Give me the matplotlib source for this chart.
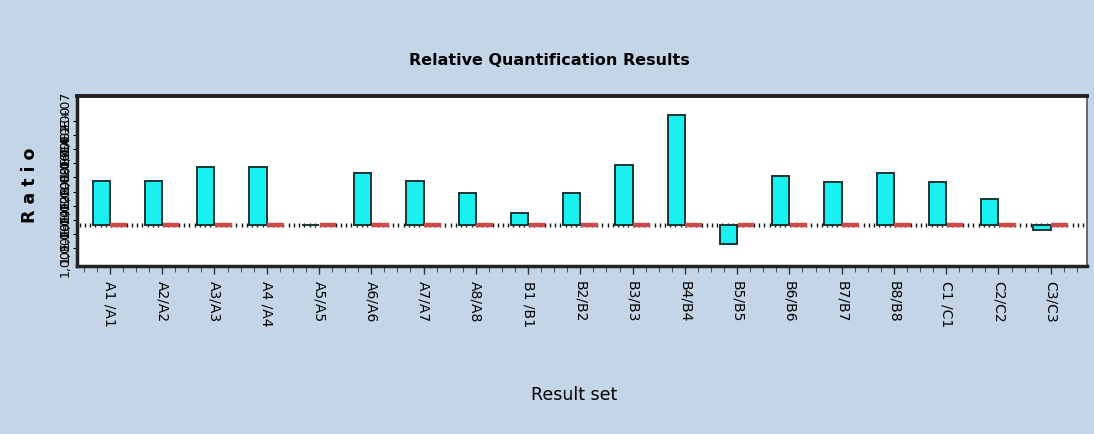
import numpy as np
import matplotlib
matplotlib.use("Agg")
import matplotlib.pyplot as plt

# Result sets and their relative quantification ratios (log scale units)
result_sets = ["A1 /A1", "A2/A2", "A3/A3", "A4 /A4", "A5/A5", "A6/A6", "A7/A7",
               "A8/A8", "B1 /B1", "B2/B2", "B3/B3", "B4/B4", "B5/B5", "B6/B6",
               "B7/B7", "B8/B8", "C1 /C1", "C2/C2", "C3/C3"]
sample_ratio = [4.4, 4.4, 5.8, 5.8, 0.05, 5.2, 4.4, 3.2, 1.2, 3.2, 6.0, 11.0,
                -1.9, 4.9, 4.3, 5.2, 4.3, 2.6, -0.5]
reference_ratio = [0.0] * len(result_sets)
ytick_labels = ["1,00E-16", "1,00E-14", "1,00E-12", "1,00E-10", "1,00E-08",
                "1,00E-06", "1,00E-04", "1,00E-02", "1,00E+00", "1,00E+07"]

bg = "#c3d5e6"
fig = plt.figure(figsize=(10.94, 4.35), dpi=100, facecolor=bg)
ax = fig.add_axes([0.0704, 0.386, 0.923, 0.391])
ax.set_facecolor("white")

x = np.arange(len(result_sets))
w = 0.33

# baseline dotted line drawn as short vertical dashes
xmin, xmax = -0.63, len(result_sets) - 1 + 0.69
dots = np.arange(xmin + 0.05, xmax, 0.1)
ax.plot(dots, np.zeros_like(dots), ls="none", marker="|", ms=3.5, mew=1.0,
        color="#111111", zorder=2)

ax.bar(x - w / 2, sample_ratio, width=w, color="#19f0f0", edgecolor="#1b3434",
       linewidth=1.4, zorder=3)
ax.hlines(reference_ratio, x + 0.01, x + w, colors="#cc4a4a", linewidth=3.2, zorder=4)

ax.set_xlim(xmin, xmax)
ax.set_ylim(-4.1, 12.9)

ax.set_xticks(x)
ax.set_xticklabels(result_sets, rotation=270, fontsize=10, va="top", ha="center",
                   family="DejaVu Sans")
ax.set_xticks(np.arange(xmin + 0.13, xmax, 0.25), minor=True)
ax.tick_params(axis="x", which="major", length=6, width=1, color="#333333", pad=4)
ax.tick_params(axis="x", which="minor", length=4, width=0.8, color="#555555")

ytick_pos = np.linspace(-2.3, 10.4, len(ytick_labels))
ax.set_yticks(ytick_pos)
ax.set_yticklabels(ytick_labels, rotation=90, fontsize=9, va="center")
ax.tick_params(axis="y", length=3, width=0.8, pad=1)

for side, lw, col in [("top", 2.8, "#222222"), ("left", 2.5, "#222222"),
                      ("bottom", 2.5, "#222222"), ("right", 1.2, "#555555")]:
    ax.spines[side].set_linewidth(lw)
    ax.spines[side].set_color(col)

fig.text(0.502, 0.862, "Relative Quantification Results", ha="center", va="center",
         fontsize=11.5, fontweight="bold", family="DejaVu Sans")
fig.text(0.525, 0.092, "Result set", ha="center", va="center",
         fontsize=12.5, family="DejaVu Sans")
fig.text(0.027, 0.575, "R a t i o", ha="center", va="center", rotation=90,
         fontsize=12.5, fontweight="bold", family="DejaVu Sans")

fig.savefig("out.png", dpi=100, facecolor=bg)
